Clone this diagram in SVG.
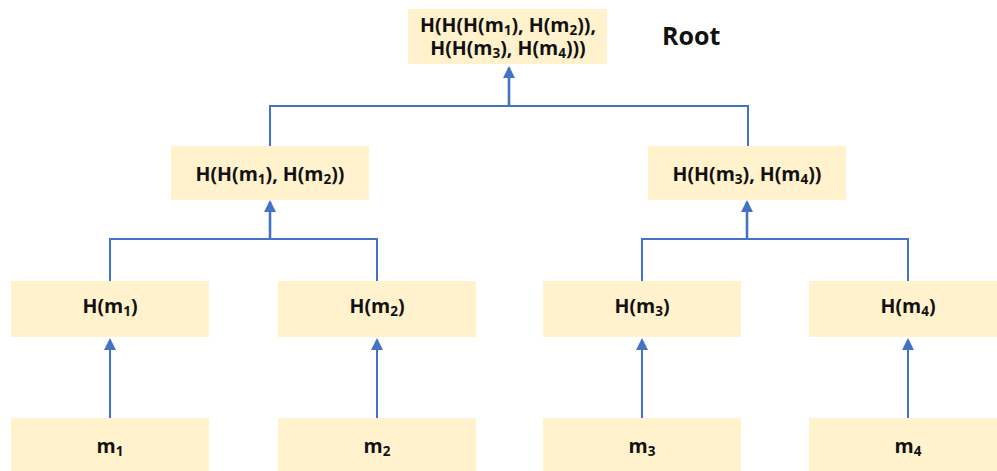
<svg xmlns="http://www.w3.org/2000/svg" width="997" height="471" viewBox="0 0 997 471">
<style>
.box{fill:#FFF2CC;}
.t{font-family:"Open Sans","Liberation Sans",sans-serif;font-weight:bold;font-size:19.5px;fill:#111;text-anchor:middle;}
.s{font-size:13.5px;}
.root{font-family:"Open Sans","Liberation Sans",sans-serif;font-weight:bold;font-size:25px;fill:#111;}
.ln{fill:none;stroke:#4472C4;stroke-width:2;}
.sh{fill:none;stroke:#4472C4;stroke-width:2.6;}
</style>
<defs>
<marker id="ah" markerUnits="userSpaceOnUse" markerWidth="12" markerHeight="12" refX="10" refY="6" orient="auto" viewBox="0 0 12 12">
<path d="M0,0 L12,6 L0,12 z" fill="#4472C4"/>
</marker>
</defs>
<g id="connectors">
<path class="ln" d="M270,146 V106 H748 V146"/>
<path class="sh" d="M509,106 V68" marker-end="url(#ah)"/>
<path class="ln" d="M110,281 V239 H377 V281"/>
<path class="sh" d="M270,239 V202" marker-end="url(#ah)"/>
<path class="ln" d="M642,281 V239 H908 V281"/>
<path class="sh" d="M747,239 V202" marker-end="url(#ah)"/>
<path class="ln" d="M110,418 V340" marker-end="url(#ah)"/>
<path class="ln" d="M377,418 V340" marker-end="url(#ah)"/>
<path class="ln" d="M642,418 V340" marker-end="url(#ah)"/>
<path class="ln" d="M908,418 V340" marker-end="url(#ah)"/>
</g>
<g id="root">
<rect class="box" x="408" y="9" width="199" height="55"/>
<text class="t" x="508" y="32">H(H(H(m<tspan class="s" dy="3">1</tspan><tspan dy="-3">), H(m</tspan><tspan class="s" dy="3">2</tspan><tspan dy="-3">)),</tspan><tspan x="508" dy="23">H(H(m</tspan><tspan class="s" dy="3">3</tspan><tspan dy="-3">), H(m</tspan><tspan class="s" dy="3">4</tspan><tspan dy="-3">)))</tspan></text>
</g>
<g id="root-label">
<text class="root" x="662" y="45">Root</text>
</g>
<g id="h12">
<rect class="box" x="171" y="146" width="198" height="54"/>
<text class="t" x="270" y="181">H(H(m<tspan class="s" dy="3">1</tspan><tspan dy="-3">), H(m</tspan><tspan class="s" dy="3">2</tspan><tspan dy="-3">))</tspan></text>
</g>
<g id="h34">
<rect class="box" x="648" y="146" width="198" height="54"/>
<text class="t" x="747" y="181">H(H(m<tspan class="s" dy="3">3</tspan><tspan dy="-3">), H(m</tspan><tspan class="s" dy="3">4</tspan><tspan dy="-3">))</tspan></text>
</g>
<g id="hm1">
<rect class="box" x="11" y="281" width="198" height="56"/>
<text class="t" x="110" y="313">H(m<tspan class="s" dy="3">1</tspan><tspan dy="-3">)</tspan></text>
</g>
<g id="hm2">
<rect class="box" x="278" y="281" width="198" height="56"/>
<text class="t" x="377" y="313">H(m<tspan class="s" dy="3">2</tspan><tspan dy="-3">)</tspan></text>
</g>
<g id="hm3">
<rect class="box" x="543" y="281" width="198" height="56"/>
<text class="t" x="642" y="313">H(m<tspan class="s" dy="3">3</tspan><tspan dy="-3">)</tspan></text>
</g>
<g id="hm4">
<rect class="box" x="809" y="281" width="198" height="56"/>
<text class="t" x="908" y="313">H(m<tspan class="s" dy="3">4</tspan><tspan dy="-3">)</tspan></text>
</g>
<g id="m1">
<rect class="box" x="11" y="418" width="198" height="53"/>
<text class="t" x="110" y="453">m<tspan class="s" dy="3">1</tspan></text>
</g>
<g id="m2">
<rect class="box" x="278" y="418" width="198" height="53"/>
<text class="t" x="377" y="453">m<tspan class="s" dy="3">2</tspan></text>
</g>
<g id="m3">
<rect class="box" x="543" y="418" width="198" height="53"/>
<text class="t" x="642" y="453">m<tspan class="s" dy="3">3</tspan></text>
</g>
<g id="m4">
<rect class="box" x="809" y="418" width="198" height="53"/>
<text class="t" x="908" y="453">m<tspan class="s" dy="3">4</tspan></text>
</g>
</svg>
